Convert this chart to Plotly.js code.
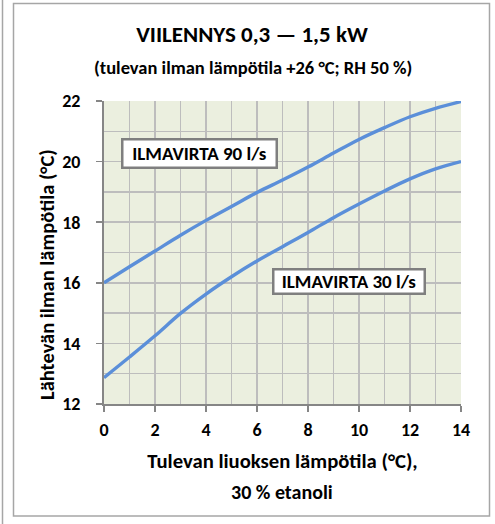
<!DOCTYPE html>
<html><head><meta charset="utf-8">
<script src="https://cdn.plot.ly/plotly-3.0.1.min.js"></script>
<style>html,body{margin:0;padding:0;background:#fff}#chart{width:495px;height:524px}</style>
</head><body><div id="chart"></div>
<script>
const liquidTemp = [0,1,2,3,4,5,6,7,8,9,10,11,12,13,14];
const flow90 = [16.0,16.53,17.05,17.57,18.06,18.52,18.98,19.39,19.82,20.28,20.73,21.12,21.48,21.76,21.98];
const flow30 = [12.87,13.55,14.25,14.99,15.63,16.2,16.72,17.19,17.66,18.15,18.6,19.03,19.43,19.76,20.0];
const seriesNames = ["ILMAVIRTA 90 l/s","ILMAVIRTA 30 l/s"];
const xTicks = [0,2,4,6,8,10,12,14];
const yTicks = [12,14,16,18,20,22];

const FONT = "Carlito, Lato, 'Open Sans', sans-serif";
const W = 495, H = 524, L = 104, R = 461, T = 101, B = 404;
const px = v => (v - L) / (R - L);
const py = v => (B - v) / (B - T);

const line = {color:'#5b8fd9', width:3.4, shape:'spline', smoothing:1};
const data = [
  {x: liquidTemp, y: flow90, name: seriesNames[0], mode:'lines', line: line, hoverinfo:'x+y'},
  {x: liquidTemp, y: flow30, name: seriesNames[1], mode:'lines', line: line, hoverinfo:'x+y'}
];

const axisCommon = {
  showline:true, linecolor:'#868686', linewidth:2, mirror:false,
  ticks:'outside', ticklen:6, tickwidth:1.5, tickcolor:'#868686',
  showgrid:true, gridcolor:'#bdbdbd', gridwidth:1.5, zeroline:false,
  tickfont:{family:FONT, size:18, color:'#000', weight:'bold'},
  fixedrange:true
};

const layout = {
  width: W, height: H,
  margin:{l:L, r:W-R, t:T, b:H-B},
  paper_bgcolor:'#ffffff', plot_bgcolor:'#ebefdf',
  showlegend:false,
  font:{family:FONT, color:'#000'},
  title:{text:'<b>VIILENNYS 0,3 — 1,5 kW</b>', font:{family:FONT, size:23, color:'#000'},
         x:px(252), xanchor:'center', y:1-34/H, yanchor:'middle', xref:'paper', yref:'container'},
  xaxis: Object.assign({}, axisCommon, {
    range:[0,14], tickmode:'array', tickvals:xTicks, ticktext:xTicks.map(String),
    minor:{dtick:1, showgrid:true, gridcolor:'#bdbdbd', gridwidth:1.5, ticks:''},
    ticklabelstandoff:2,
    title:{text:'<b>Tulevan liuoksen lämpötila (°C),</b>', font:{family:FONT, size:20.7, color:'#000'}, standoff:14}
  }),
  yaxis: Object.assign({}, axisCommon, {
    range:[12,22], tickmode:'array', tickvals:yTicks, ticktext:yTicks.map(String),
    minor:{dtick:1, showgrid:true, gridcolor:'#bdbdbd', gridwidth:1.5, ticks:''},
    ticklabelstandoff:12
  }),
  annotations:[
    {xref:'paper', yref:'paper', x:px(47), y:py(275), text:'<b>Lähtevän ilman lämpötila (°C)</b>', textangle:-90,
     showarrow:false, font:{family:FONT, size:20.5, color:'#000'}, xanchor:'center', yanchor:'middle'},
    {xref:'paper', yref:'paper', x:px(253), y:py(67), text:'<b>(tulevan ilman lämpötila +26 °C; RH 50 %)</b>',
     showarrow:false, font:{family:FONT, size:18.5, color:'#000'}, xanchor:'center', yanchor:'middle'},
    {xref:'paper', yref:'paper', x:px(282), y:py(492), text:'<b>30 % etanoli</b>',
     showarrow:false, font:{family:FONT, size:20, color:'#000'}, xanchor:'center', yanchor:'middle'},
    {xref:'x', yref:'y', x:3.76, y:20.28, text:'<b>'+seriesNames[0]+'</b>', showarrow:false,
     font:{family:FONT, size:19, color:'#000'}, bgcolor:'#ffffff', bordercolor:'#7f7f7f', borderwidth:2.5,
     width:150, height:24, align:'center'},
    {xref:'x', yref:'y', x:9.6, y:16.03, text:'<b>'+seriesNames[1]+'</b>', showarrow:false,
     font:{family:FONT, size:19, color:'#000'}, bgcolor:'#ffffff', bordercolor:'#7f7f7f', borderwidth:2.5,
     width:147, height:20, align:'center'}
  ],
  shapes:[
    {type:'rect', xref:'paper', yref:'paper', x0:px(13.5), x1:px(489.5), y0:py(3.5), y1:py(516),
     line:{color:'#a6a6a6', width:1.5}, fillcolor:'rgba(0,0,0,0)', layer:'below'},
    {type:'line', xref:'paper', yref:'paper', x0:px(2.5), x1:px(2.5), y0:py(0), y1:py(524),
     line:{color:'#a6a6a6', width:1.5}}
  ]
};

Plotly.newPlot('chart', data, layout, {displayModeBar:false, staticPlot:true});
</script></body></html>
